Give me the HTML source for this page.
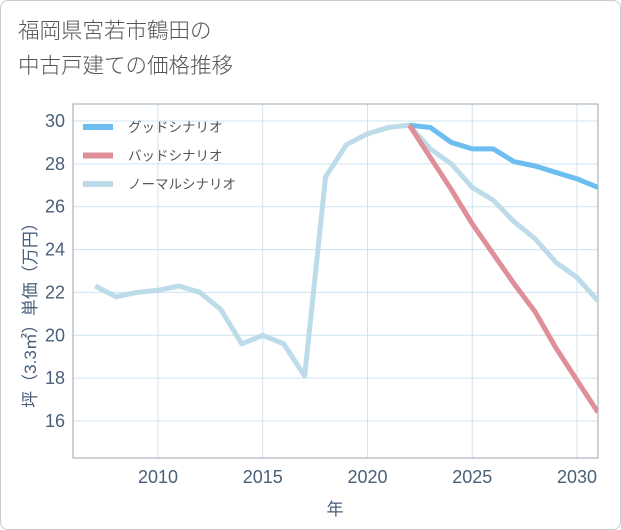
<!DOCTYPE html>
<html><head><meta charset="utf-8"><style>
body{margin:0;background:#fff;}
#wrap{position:relative;width:619px;height:528px;border:1px solid #ccc;border-radius:8px;background:#fff;overflow:hidden;font-family:"Liberation Sans","Noto Sans CJK JP",sans-serif;}
#title{position:absolute;left:17px;top:13px;font-size:21.5px;line-height:35px;color:#555;font-weight:300;}
svg{position:absolute;left:0;top:0;}
</style></head><body>
<div id="wrap">
<div id="title">福岡県宮若市鶴田の<br>中古戸建ての価格推移</div>
<svg id="chart" width="621" height="530"></svg>
</div>
<script>
const years=[2007,2008,2009,2010,2011,2012,2013,2014,2015,2016,2017,2018,2019,2020,2021,2022,2023,2024,2025,2026,2027,2028,2029,2030,2031];
const normalVals=[22.3,21.8,22.0,22.1,22.3,22.0,21.2,19.6,20.0,19.6,18.1,27.4,28.9,29.4,29.7,29.8,28.7,28.0,26.9,26.3,25.3,24.5,23.4,22.7,21.6];
const futureYears=[2022,2023,2024,2025,2026,2027,2028,2029,2030,2031];
const goodVals=[29.8,29.7,29.0,28.7,28.7,28.1,27.9,27.6,27.3,26.9];
const badVals=[29.8,28.3,26.8,25.2,23.8,22.4,21.1,19.4,17.9,16.4];
const xTicks=[2010,2015,2020,2025,2030];
const yTicks=[16,18,20,22,24,26,28,30];
const legendLabels=["グッドシナリオ","バッドシナリオ","ノーマルシナリオ"];
const L=72,R=597,T=103,B=457;
const x=v=>157+(v-2010)*(576-157)/20;
const y=v=>420-(v-16)*(300/14);
const ns="http://www.w3.org/2000/svg",svg=document.getElementById('chart');
function mk(t,a){const e=document.createElementNS(ns,t);for(const k in a)e.setAttribute(k,a[k]);svg.appendChild(e);return e;}
yTicks.forEach(v=>{const g=mk('line',{x1:L,x2:R,y1:y(v),y2:y(v),stroke:'#cfe3f0','stroke-width':1});


const t=mk('text',{x:L-8,y:y(v)+6,'text-anchor':'end','font-size':18,fill:'#4a5f7a'});t.textContent=v;

});
xTicks.forEach(v=>{const g=mk('line',{x1:x(v),x2:x(v),y1:T,y2:B,stroke:'#cfe3f0','stroke-width':1});


const t=mk('text',{x:x(v),y:B+25,'text-anchor':'middle','font-size':18,fill:'#4a5f7a'});t.textContent=v;

});
const fr=mk('rect',{x:L,y:T,width:R-L,height:B-T,fill:'none',stroke:'#9aa5b1','stroke-width':1});


const cp=mk('clipPath',{id:'cp'});const cr=document.createElementNS(ns,'rect');cr.setAttribute('x',L);cr.setAttribute('y',T);cr.setAttribute('width',R-L);cr.setAttribute('height',B-T);cp.appendChild(cr);
function series(xs,vs,color,name){const p=mk('polyline',{points:xs.map((v,i)=>x(v)+','+y(vs[i])).join(' '),fill:'none',stroke:color,'stroke-width':5,'stroke-linejoin':'round','clip-path':'url(#cp)'});

}
series(years,normalVals,'#bddcea','normal-scenario-line');
series(futureYears,goodVals,'#6cbdf0','good-scenario-line');
series(futureYears,badVals,'#df8f98','bad-scenario-line');
const legColors=['#6cbdf0','#df8f98','#bddcea'];
legendLabels.forEach((s,i)=>{const yy=126+i*28.5;
const l=mk('line',{x1:82,x2:112,y1:yy,y2:yy,stroke:legColors[i],'stroke-width':6});


const t=mk('text',{x:127,y:yy+5,'font-size':13.5,fill:'#555'});t.textContent=s;

});
const xt=mk('text',{x:334,y:514,'text-anchor':'middle','font-size':17,fill:'#4a5f7a'});xt.textContent='年';


const yt=mk('text',{x:0,y:0,'text-anchor':'middle','font-size':17,fill:'#4a5f7a',transform:'translate(35,310) rotate(-90)'});yt.textContent='坪（3.3㎡）単価（万円）';


</script>
</body></html>
